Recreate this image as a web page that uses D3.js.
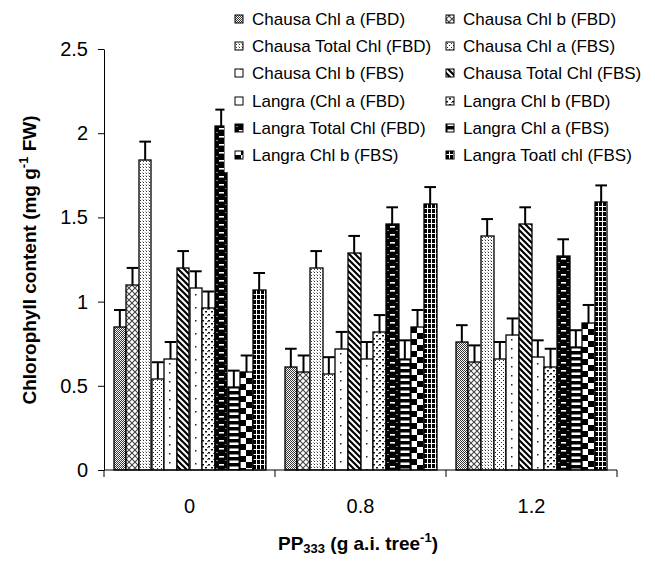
<!DOCTYPE html>
<html>
<head>
<meta charset="utf-8">
<script src="https://cdn.jsdelivr.net/npm/d3@7"></script>
<style>
  body { margin: 0; background: #fff; }
  svg { display: block; }
  text { font-family: "Liberation Sans", Arial, sans-serif; fill: #000; }
</style>
</head>
<body>
<svg width="655" height="561"></svg>
<script>
const doses = ["0", "0.8", "1.2"];
const seriesNames = [
  "Chausa Chl a (FBD)", "Chausa Chl b (FBD)",
  "Chausa Total Chl (FBD)", "Chausa Chl a (FBS)",
  "Chausa Chl b (FBS)", "Chausa Total Chl (FBS)",
  "Langra (Chl a (FBD)", "Langra Chl b (FBD)",
  "Langra Total Chl (FBD)", "Langra Chl a (FBS)",
  "Langra Chl b (FBS)", "Langra Toatl chl (FBS)"
];
// one value per series, in the order above
const dose0   = [0.85, 1.10, 1.84, 0.54, 0.66, 1.20, 1.08, 0.96, 2.04, 0.49, 0.58, 1.07];
const dose08  = [0.61, 0.58, 1.20, 0.57, 0.72, 1.29, 0.66, 0.82, 1.46, 0.66, 0.85, 1.58];
const dose12  = [0.76, 0.64, 1.39, 0.66, 0.80, 1.46, 0.67, 0.61, 1.27, 0.73, 0.87, 1.59];
const err0    = [0.10, 0.10, 0.11, 0.10, 0.10, 0.10, 0.10, 0.10, 0.10, 0.10, 0.10, 0.10];
const err08   = [0.11, 0.10, 0.10, 0.10, 0.10, 0.10, 0.10, 0.10, 0.10, 0.11, 0.10, 0.10];
const err12   = [0.10, 0.10, 0.10, 0.10, 0.10, 0.10, 0.10, 0.11, 0.10, 0.10, 0.11, 0.10];
const yTicks  = [0, 0.5, 1, 1.5, 2, 2.5];

const groupVals = [dose0, dose08, dose12];
const groupErrs = [err0, err08, err12];

const svg = d3.select("svg");

const y = d3.scaleLinear().domain([0, 2.5]).range([470, 49]);
const x0 = d3.scaleBand().domain(doses).range([104, 617]);
const x1 = d3.scaleBand().domain(d3.range(seriesNames.length))
  .range([9.5, x0.bandwidth() - 9.5]);

// ---- fill patterns (black & white, like the print version) ----
const defs = svg.append("defs");
function pat(id, w, h, draw) {
  const p = defs.append("pattern").attr("id", id)
    .attr("patternUnits", "userSpaceOnUse")
    .attr("width", w).attr("height", h);
  draw(p);
}
const rect = (p, x, y, w, h, c) => p.append("rect")
  .attr("x", x).attr("y", y).attr("width", w).attr("height", h).attr("fill", c);

pat("p0", 2, 2, p => { rect(p, 0, 0, 2, 2, "#fff"); rect(p, 0, 0, 1, 1, "#333"); rect(p, 1, 1, 1, 1, "#333"); });
pat("p1", 6, 6, p => {
  rect(p, 0, 0, 6, 6, "#fff");
  p.append("path").attr("d", "M0,0L6,6M6,0L0,6").attr("stroke", "#444").attr("stroke-width", 1.1);
});
pat("p2", 3, 3, p => { rect(p, 0, 0, 3, 3, "#fff"); rect(p, 1, 1, 1, 1, "#333"); rect(p, 0, 0, 1, 1, "#aaa"); });
pat("p3", 4, 4, p => { rect(p, 0, 0, 4, 4, "#fff"); rect(p, 1, 1, 1, 1, "#222"); rect(p, 3, 3, 1, 1, "#222"); });
pat("p4", 20, 9, p => { rect(p, 0, 0, 20, 9, "#fff"); rect(p, 5, 4, 1.5, 1.5, "#222"); });
pat("p5", 6, 6, p => {
  rect(p, 0, 0, 6, 6, "#fff");
  p.append("path").attr("d", "M-1,-1L7,7M-1,5L1,7M5,-1L7,1").attr("stroke", "#000").attr("stroke-width", 2.2);
});
pat("p6", 20, 13, p => { rect(p, 0, 0, 20, 13, "#fff"); rect(p, 5, 6, 1.5, 1.5, "#222"); });
pat("p7", 6, 6, p => {
  rect(p, 0, 0, 6, 6, "#fff");
  rect(p, 0, 0, 2, 1.5, "#111"); rect(p, 3, 3, 2, 1.5, "#111"); rect(p, 5, 1, 1, 1, "#666");
});
pat("p8", 13, 8, p => {
  rect(p, 0, 0, 13, 8, "#000");
  rect(p, 4, 2, 5, 1.6, "#fff"); rect(p, 1.5, 6, 1, 1, "#fff"); rect(p, 10.5, 6, 1, 1, "#fff");
});
pat("p9", 13, 6, p => { rect(p, 0, 0, 13, 6, "#000"); rect(p, 1.5, 1.5, 9, 2.5, "#fff"); });
pat("p10", 12, 12, p => {
  rect(p, 0, 0, 12, 12, "#fff"); rect(p, 0, 0, 6, 6, "#000"); rect(p, 6, 6, 6, 6, "#000");
});
pat("p11", 4, 5, p => { rect(p, 0, 0, 4, 5, "#000"); rect(p, 3, 0, 1, 5, "#fff"); rect(p, 0, 4, 4, 1, "#fff"); });

// ---- bars ----
const bars = [];
doses.forEach((d, gi) => {
  seriesNames.forEach((s, si) => {
    bars.push({ dose: d, si, v: groupVals[gi][si], e: groupErrs[gi][si] });
  });
});

const barG = svg.append("g").selectAll("g")
  .data(bars)
  .join("g")
  .attr("transform", d => `translate(${Math.round(x0(d.dose) + x1(d.si))},${Math.round(y(d.v))})`);

barG.append("rect")
  .attr("x", 0).attr("y", 0)
  .attr("width", d => Math.round(x0(d.dose) + x1(d.si) + x1.bandwidth()) - Math.round(x0(d.dose) + x1(d.si)))
  .attr("height", d => y(0) - Math.round(y(d.v)))
  .attr("fill", d => `url(#p${d.si})`)
  .attr("stroke", "#000")
  .attr("stroke-width", 1.3);

// error bars (plus side only)
const errG = svg.append("g").attr("stroke", "#000").attr("stroke-width", 2);
errG.selectAll("line.v")
  .data(bars).join("line").attr("class", "v")
  .attr("x1", d => x0(d.dose) + x1(d.si) + x1.bandwidth() / 2)
  .attr("x2", d => x0(d.dose) + x1(d.si) + x1.bandwidth() / 2)
  .attr("y1", d => y(d.v))
  .attr("y2", d => y(d.v + d.e));
errG.selectAll("line.c")
  .data(bars).join("line").attr("class", "c")
  .attr("x1", d => x0(d.dose) + x1(d.si) + 0.5)
  .attr("x2", d => x0(d.dose) + x1(d.si) + x1.bandwidth() - 0.5)
  .attr("y1", d => y(d.v + d.e))
  .attr("y2", d => y(d.v + d.e));

// ---- axes ----
const yAxis = svg.append("g")
  .attr("transform", "translate(104,0)")
  .call(d3.axisLeft(y).tickValues(yTicks).tickFormat(d3.format("")).tickSize(6).tickSizeOuter(0).tickPadding(10));
yAxis.select(".domain").attr("stroke", "#000");
yAxis.selectAll("text").style("font-size", "20px");

const xAxis = svg.append("g").attr("transform", `translate(0,${y(0)})`);
xAxis.append("line").attr("x1", x0.range()[0]).attr("x2", x0.range()[1]).attr("stroke", "#000");
xAxis.selectAll("line.tick")
  .data(doses.map(d => x0(d)).concat([x0.range()[1]]))
  .join("line").attr("class", "tick")
  .attr("x1", d => d).attr("x2", d => d).attr("y1", 0).attr("y2", 7).attr("stroke", "#000");
xAxis.selectAll("text")
  .data(doses).join("text")
  .attr("x", d => x0(d) + x0.bandwidth() / 2)
  .attr("y", 43)
  .attr("text-anchor", "middle")
  .style("font-size", "20px")
  .text(d => d);

// axis titles
const xt = svg.append("text")
  .attr("x", 358).attr("y", 550)
  .attr("text-anchor", "middle")
  .style("font-size", "19px").style("font-weight", "bold");
xt.append("tspan").text("PP");
xt.append("tspan").attr("dy", 3).style("font-size", "13px").text("333");
xt.append("tspan").attr("dy", -3).text(" (g a.i. tree");
xt.append("tspan").attr("dy", -8).style("font-size", "13px").text("-1");
xt.append("tspan").attr("dy", 8).text(")");

const yt = svg.append("text")
  .attr("transform", "translate(36,260) rotate(-90)")
  .attr("text-anchor", "middle")
  .style("font-size", "19px").style("font-weight", "bold");
yt.append("tspan").text("Chlorophyll content (mg g");
yt.append("tspan").attr("dy", -8).style("font-size", "13px").text("-1");
yt.append("tspan").attr("dy", 8).text(" FW)");

// ---- legend (opaque box over the plot) ----
const leg = svg.append("g");
leg.append("rect").attr("x", 224.5).attr("y", 0).attr("width", 431).attr("height", 172).attr("fill", "#fff");
const legX = [235, 446];
const item = leg.selectAll("g.item")
  .data(seriesNames)
  .join("g").attr("class", "item")
  .attr("transform", (d, i) => `translate(${legX[i % 2]},${Math.round(19 + Math.floor(i / 2) * 27.2)})`);
item.append("rect")
  .attr("x", 0).attr("y", -4).attr("width", 8).attr("height", 8)
  .attr("fill", (d, i) => `url(#p${i})`)
  .attr("stroke", "#000").attr("stroke-width", 1);
item.append("text")
  .attr("x", 17).attr("y", 6)
  .style("font-size", "17px")
  .text(d => d);
</script>
</body>
</html>
